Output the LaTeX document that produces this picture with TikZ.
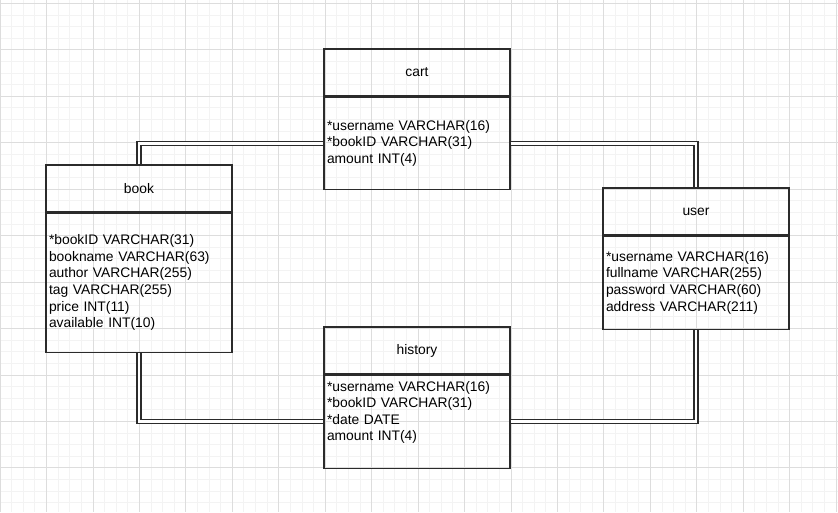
\documentclass[tikz,border=0pt]{standalone}
\usepackage{fontspec}
\setmainfont{Liberation Sans}
\usepackage{xcolor}
\usepackage{tikz}
\usetikzlibrary{positioning,calc}

\newcommand{\tblfont}{\fontsize{13.85}{16.6}\selectfont}
\definecolor{gridminor}{HTML}{F3F3F3}
\definecolor{gridmajor}{HTML}{DDDDDD}
\definecolor{edge}{HTML}{2B2B2B}

\tikzset{
  tblhead/.style={draw=edge, line width=1.2pt, minimum width=186pt, minimum height=47pt, inner sep=0pt, font=\tblfont},
  tblbody/.style={draw=edge, line width=1.2pt, minimum width=186pt, text width=180pt, inner xsep=3pt, inner ysep=0pt, align=left, anchor=north, font=\tblfont},
  rel/.style={draw=edge, double=white, double distance=2.8pt, line width=1.2pt},
}

\begin{document}
\begin{tikzpicture}[x=1pt,y=-1pt]
\useasboundingbox (0,0) rectangle (838,512);
\fill[white] (0,0) rectangle (838,512);
% background grid
\foreach \k in {0,...,72}
    \draw[gridminor,line width=0.8pt] (\k*11.6125,0) -- ++(0,512);
\foreach \k in {0,...,43}
    \draw[gridminor,line width=0.8pt] (0,3.3+\k*11.6125) -- ++(838,0);
\foreach \k in {0,...,18}
    \draw[gridmajor,line width=0.8pt] (\k*46.45,0) -- ++(0,512);
\foreach \k in {0,...,10}
    \draw[gridmajor,line width=0.8pt] (0,3.3+\k*46.45) -- ++(838,0);

% tables
\node[tblhead] (carthead) at (417,72.5) {cart};
\node[tblbody, minimum height=92pt] (cartbody) at (carthead.south) {%
*username VARCHAR(16)\\
{}*bookID VARCHAR(31)\\
amount INT(4)};

\node[tblhead] (bookhead) at (139,188.5) {book};
\node[tblbody, minimum height=139pt] (bookbody) at (bookhead.south) {%
*bookID VARCHAR(31)\\
bookname VARCHAR(63)\\
author VARCHAR(255)\\
tag VARCHAR(255)\\
price INT(11)\\
available INT(10)};

\node[tblhead] (userhead) at (696,211.5) {user};
\node[tblbody, minimum height=93pt] (userbody) at (userhead.south) {%
*username VARCHAR(16)\\
fullname VARCHAR(255)\\
password VARCHAR(60)\\
address VARCHAR(211)};

\node[tblhead] (histhead) at (417,350.5) {history};
\node[tblbody, minimum height=93pt] (histbody) at (histhead.south) {%
*username VARCHAR(16)\\
{}*bookID VARCHAR(31)\\
{}*date DATE\\
amount INT(4)\\
\strut};

% relations
\draw[rel] (bookhead.north) |- (cartbody.west);
\draw[rel] (cartbody.east) -| (userhead.north);
\draw[rel] (bookbody.south) |- (histbody.west);
\draw[rel] (histbody.east) -| (userbody.south);
\end{tikzpicture}
\end{document}
